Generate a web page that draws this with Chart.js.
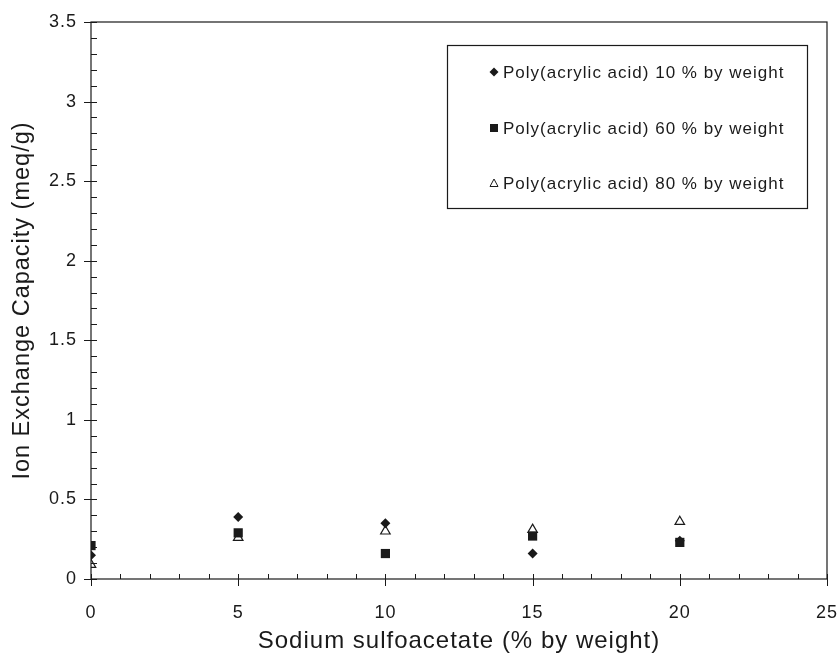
<!DOCTYPE html>
<html>
<head>
<meta charset="utf-8">
<script src="https://cdn.jsdelivr.net/npm/chart.js@4"></script>
<style>
  html, body { margin: 0; padding: 0; background: #fff; }
  #wrap { width: 840px; height: 656px; position: relative; }
</style>
</head>
<body>
<div id="wrap"><canvas id="chart" width="840" height="656"></canvas></div>
<script>
// Sodium sulfoacetate content (% by weight)
const sulfoacetate = [0, 5, 10, 15, 20];

// Ion exchange capacity (meq/g) per poly(acrylic acid) content
const paa10 = [0.15, 0.39, 0.35, 0.16, 0.24];
const paa60 = [0.21, 0.29, 0.16, 0.27, 0.23];
const paa80 = [0.09, 0.26, 0.30, 0.31, 0.36];

const seriesLabels = [
  'Poly(acrylic acid) 10 % by weight',
  'Poly(acrylic acid) 60 % by weight',
  'Poly(acrylic acid) 80 % by weight',
];

const xMax = 25, xStep = 5, xMinor = 1;
const yMax = 3.5, yStep = 0.5, yMinor = 0.1;

const INK = '#1a1a1a';
const FONT = 'Liberation Sans, Arial, sans-serif';

const toPoints = (ys) => sulfoacetate.map((x, i) => ({ x, y: ys[i] }));

// The reference type is set a little loose; widen all canvas text by 1px
const spacingPlugin = {
  id: 'spacing',
  beforeUpdate(chart) { chart.ctx.letterSpacing = '1px'; },
  beforeDraw(chart) { chart.ctx.letterSpacing = '1px'; },
};

// Frame, inward minor ticks, crossing major ticks, boxed legend
const framePlugin = {
  id: 'frame',
  afterDraw(chart) {
    const { ctx, chartArea: a, scales: { x, y } } = chart;
    ctx.save();
    ctx.strokeStyle = INK;
    ctx.lineWidth = 1.2;
    ctx.strokeRect(a.left, a.top, a.right - a.left, a.bottom - a.top);

    ctx.lineWidth = 1;
    ctx.beginPath();
    for (let v = 0; v <= xMax + 1e-9; v += xMinor) {
      const px = Math.round(x.getPixelForValue(v)) + 0.5;
      const major = Math.abs(v / xStep - Math.round(v / xStep)) < 1e-6;
      ctx.moveTo(px, a.bottom - 5);
      ctx.lineTo(px, a.bottom + (major ? 7 : 0));
    }
    for (let v = 0; v <= yMax + 1e-9; v += yMinor) {
      const py = Math.round(y.getPixelForValue(v)) + 0.5;
      const major = Math.abs(v / yStep - Math.round(v / yStep)) < 1e-6;
      ctx.moveTo(a.left - (major ? 7 : 0), py);
      ctx.lineTo(a.left + 6, py);
    }
    ctx.stroke();

    // legend box
    const box = { left: 447, top: 45, right: 807, bottom: 208 };
    ctx.lineWidth = 1.2;
    ctx.strokeRect(box.left + 0.5, box.top + 0.5, box.right - box.left, box.bottom - box.top);
    const rows = [72, 128, 183];
    ctx.font = '17px ' + FONT;
    ctx.fillStyle = INK;
    ctx.textBaseline = 'middle';
    chart.data.datasets.forEach((ds, i) => {
      const mx = 494, my = rows[i];
      ctx.beginPath();
      if (ds.pointStyle === 'rectRot') {
        ctx.moveTo(mx, my - 4.5); ctx.lineTo(mx + 4.5, my); ctx.lineTo(mx, my + 4.5); ctx.lineTo(mx - 4.5, my);
        ctx.closePath(); ctx.fill();
      } else if (ds.pointStyle === 'rect') {
        ctx.rect(mx - 4, my - 4, 8, 8); ctx.fill();
      } else {
        ctx.moveTo(mx, my - 4); ctx.lineTo(mx + 4, my + 3.5); ctx.lineTo(mx - 4, my + 3.5);
        ctx.closePath(); ctx.lineWidth = 1; ctx.stroke();
      }
      ctx.fillText(ds.label, 503, my + 1);
    });
    ctx.restore();
  },
};

new Chart(document.getElementById('chart'), {
  type: 'scatter',
  data: {
    datasets: [
      {
        label: seriesLabels[0],
        data: toPoints(paa10),
        pointStyle: 'rectRot',
        pointRadius: 5,
        backgroundColor: INK,
        borderColor: INK,
        borderWidth: 0,
      },
      {
        label: seriesLabels[1],
        data: toPoints(paa60),
        pointStyle: 'rect',
        pointRadius: 6.5,
        backgroundColor: INK,
        borderColor: INK,
        borderWidth: 0,
      },
      {
        label: seriesLabels[2],
        data: toPoints(paa80),
        pointStyle: 'triangle',
        pointRadius: 5.5,
        backgroundColor: 'rgba(255,255,255,0)',
        borderColor: INK,
        borderWidth: 1.2,
      },
    ],
  },
  options: {
    responsive: false,
    animation: false,
    layout: { padding: { left: 0, right: 13, top: 22, bottom: 0 } },
    plugins: { legend: { display: false }, tooltip: { enabled: false } },
    scales: {
      x: {
        type: 'linear',
        min: 0,
        max: xMax,
        afterFit: (s) => { s.height = 77; s.paddingLeft = 0; s.paddingRight = 0; },
        ticks: {
          stepSize: xStep, color: INK, padding: 23,
          font: { family: FONT, size: 18 },
          callback: (v) => String(v),
        },
        grid: { display: false, drawTicks: false },
        border: { display: false },
        title: {
          display: true,
          text: 'Sodium sulfoacetate (% by weight)',
          color: INK,
          padding: { top: 5, bottom: 0 },
          font: { family: FONT, size: 24 },
        },
      },
      y: {
        type: 'linear',
        min: 0,
        max: yMax,
        afterFit: (s) => { s.width = 91; s.paddingTop = 0; s.paddingBottom = 0; },
        ticks: {
          stepSize: yStep, color: INK, padding: 14,
          font: { family: FONT, size: 18 },
          callback: (v) => String(v),
        },
        grid: { display: false, drawTicks: false },
        border: { display: false },
        title: {
          display: true,
          text: 'Ion Exchange Capacity (meq/g)',
          color: INK,
          padding: { top: 8, bottom: 0 },
          font: { family: FONT, size: 23.5 },
        },
      },
    },
  },
  plugins: [spacingPlugin, framePlugin],
});
</script>
</body>
</html>
